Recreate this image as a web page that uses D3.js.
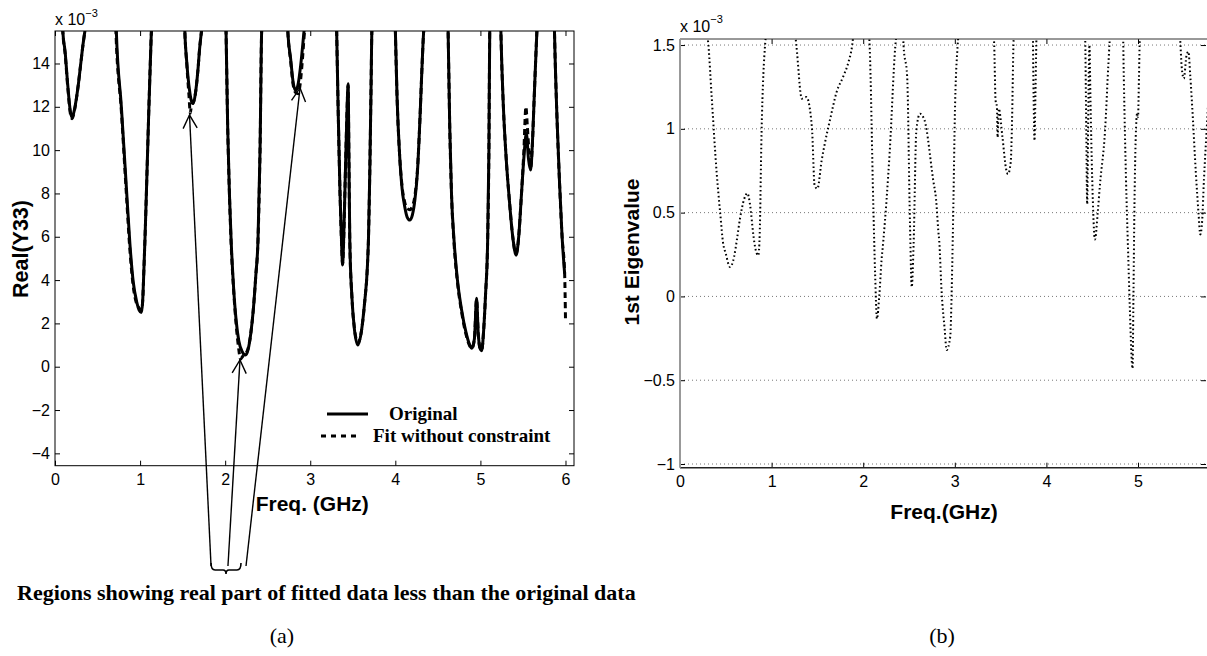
<!DOCTYPE html>
<html><head><meta charset="utf-8">
<script src="https://cdn.jsdelivr.net/npm/d3@7"></script>
<style>body{margin:0;background:#fff}svg{display:block}</style>
</head><body>
<svg id="c" width="1207" height="656"></svg>
<script>
// ---------- data (values in units of 1e-3) ----------
const origData = [
[0,20],[0.06,20],[0.09,15.6],[0.12,14.5],[0.15,13.0],[0.18,11.8],[0.2,11.5],[0.23,11.9],[0.27,12.9],[0.3,13.9],[0.33,14.9],[0.355,15.6],[0.5,20],
[0.7,20],[0.72,15.6],[0.78,12],[0.84,8.2],[0.88,5.7],[0.92,3.9],[0.96,3.0],[0.99,2.6],[1.015,2.5],[1.03,3.0],[1.045,4.5],[1.06,6.2],[1.08,8.8],[1.1,11.5],[1.12,14],[1.135,15.6],[1.3,20],
[1.5,20],[1.525,15.6],[1.55,14],[1.58,12.8],[1.605,12.25],[1.625,12.15],[1.65,12.6],[1.68,13.7],[1.70,14.7],[1.725,15.6],[1.85,20],
[1.99,20],[2.01,15.6],[2.03,11],[2.05,8],[2.07,5.85],[2.1,3.6],[2.13,2.1],[2.16,1.2],[2.2,0.7],[2.24,0.54],[2.27,0.8],[2.3,1.5],[2.33,2.6],[2.36,4.2],[2.386,5.85],[2.41,10],[2.43,15.6],[2.6,20],
[2.72,20],[2.735,15.6],[2.77,14.2],[2.8,13.1],[2.83,12.75],[2.86,13.1],[2.89,14.0],[2.93,15.6],[3.1,20],
[3.29,20],[3.31,15.6],[3.33,11.5],[3.35,8],[3.37,5.5],[3.38,4.7],[3.39,5.5],[3.41,8.5],[3.43,11.5],[3.445,13.07],[3.455,9.5],[3.465,5.8],[3.49,3.2],[3.52,1.7],[3.56,1.0],[3.6,1.6],[3.64,3.0],[3.67,4.5],[3.685,6],[3.70,9],[3.715,13],[3.725,15.6],[3.85,20],
[3.98,20],[4.0,15.6],[4.02,12.5],[4.05,9.8],[4.08,8.2],[4.11,7.4],[4.14,6.9],[4.17,6.77],[4.2,7.0],[4.23,7.7],[4.26,9.0],[4.29,11.5],[4.31,13.5],[4.335,15.6],[4.5,20],
[4.6,20],[4.62,15.6],[4.64,11],[4.66,8],[4.69,5.85],[4.73,4.0],[4.78,2.6],[4.83,1.6],[4.87,1.05],[4.9,0.85],[4.93,1.3],[4.955,3.16],[4.975,1.5],[5.0,0.8],[5.015,0.74],[5.04,1.8],[5.06,3.3],[5.085,5.8],[5.1,10],[5.11,15.6],[5.18,20],
[5.22,20],[5.24,15.6],[5.27,12],[5.3,9.8],[5.34,7.7],[5.38,6.0],[5.42,5.15],[5.45,6.0],[5.48,7.8],[5.51,9.6],[5.54,10.77],[5.565,9.6],[5.59,9.08],[5.61,10.2],[5.63,12.2],[5.665,15.6],[5.77,20],
[5.85,20],[5.87,15.6],[5.9,11.5],[5.93,8.5],[5.96,6],[5.99,4.3]
];
const fitData = [
[0,20],[0.06,20],[0.09,15.6],[0.12,14.4],[0.15,12.9],[0.18,11.7],[0.2,11.45],[0.23,11.85],[0.27,12.9],[0.3,13.9],[0.33,14.9],[0.355,15.6],[0.5,20],
[0.7,20],[0.715,15.6],[0.78,11.8],[0.84,7.9],[0.88,5.4],[0.92,3.7],[0.96,2.9],[0.99,2.7],[1.015,2.6],[1.03,3.0],[1.045,4.5],[1.06,6.2],[1.08,8.8],[1.1,11.5],[1.12,14],[1.135,15.6],[1.3,20],
[1.5,20],[1.525,15.6],[1.55,13.9],[1.575,12.5],[1.59,11.7],[1.605,12.1],[1.625,12.2],[1.65,12.6],[1.68,13.7],[1.70,14.7],[1.725,15.6],[1.85,20],
[1.99,20],[2.01,15.6],[2.03,11],[2.05,8],[2.07,5.7],[2.1,3.5],[2.13,1.9],[2.16,0.8],[2.18,0.35],[2.21,0.5],[2.24,0.6],[2.27,0.85],[2.3,1.5],[2.33,2.6],[2.36,4.2],[2.386,5.85],[2.41,10],[2.43,15.6],[2.6,20],
[2.72,20],[2.735,15.6],[2.77,14.1],[2.8,13.0],[2.83,12.65],[2.86,12.6],[2.88,13.0],[2.9,13.8],[2.935,15.6],[3.1,20],
[3.29,20],[3.31,15.6],[3.33,11.5],[3.35,8],[3.37,5.5],[3.38,4.75],[3.39,5.5],[3.41,8.5],[3.43,11.5],[3.445,13.0],[3.455,9.5],[3.465,5.8],[3.49,3.2],[3.52,1.75],[3.56,1.1],[3.6,1.6],[3.64,3.0],[3.67,4.5],[3.685,6],[3.70,9],[3.715,13],[3.725,15.6],[3.85,20],
[3.98,20],[4.0,15.6],[4.02,12.5],[4.05,9.8],[4.08,8.3],[4.11,7.6],[4.14,7.3],[4.17,7.25],[4.2,7.4],[4.23,7.9],[4.26,9.1],[4.29,11.5],[4.31,13.5],[4.335,15.6],[4.5,20],
[4.6,20],[4.62,15.6],[4.64,11],[4.66,8],[4.69,5.7],[4.73,3.9],[4.78,2.5],[4.83,1.5],[4.87,1.0],[4.9,0.85],[4.93,1.3],[4.955,3.1],[4.975,1.5],[5.0,0.8],[5.015,0.78],[5.04,1.8],[5.06,3.3],[5.085,5.8],[5.1,10],[5.11,15.6],[5.18,20],
[5.22,20],[5.24,15.6],[5.27,12],[5.3,9.8],[5.34,7.7],[5.38,6.0],[5.42,5.2],[5.45,6.0],[5.48,7.8],[5.51,9.9],[5.535,12.0],[5.55,11.2],[5.57,10.0],[5.59,9.2],[5.61,10.2],[5.63,12.2],[5.665,15.6],[5.77,20],
[5.85,20],[5.87,15.6],[5.9,11.5],[5.93,8.5],[5.96,6],[5.99,4.3],[6.0,2.2]
];
const eigData = [
[0.29,1.6],[0.31,1.5],[0.346,1.19],[0.40,0.74],[0.44,0.49],[0.47,0.32],[0.5,0.255],[0.546,0.175],[0.59,0.235],[0.62,0.334],[0.655,0.465],[0.7,0.58],[0.735,0.616],[0.764,0.55],[0.80,0.37],[0.82,0.294],[0.855,0.245],[0.87,0.37],[0.89,0.97],[0.93,1.51],[0.95,1.6],
[1.1,1.9],
[1.25,1.6],[1.27,1.5],[1.33,1.18],[1.38,1.19],[1.44,1.01],[1.47,0.66],[1.5,0.643],[1.546,0.81],[1.58,0.91],[1.64,1.06],[1.71,1.22],[1.78,1.31],[1.84,1.40],[1.88,1.5],[1.9,1.6],
[2.0,1.9],
[2.06,1.6],[2.07,1.5],[2.11,0.55],[2.13,0.135],[2.15,-0.133],[2.175,0.0],[2.2,0.215],[2.22,0.334],[2.29,0.87],[2.35,1.49],[2.37,1.6],
[2.42,1.8],
[2.44,1.5],[2.48,1.31],[2.51,0.45],[2.53,0.056],[2.55,0.31],[2.58,0.99],[2.62,1.09],[2.67,1.05],[2.765,0.69],[2.795,0.58],[2.82,0.39],[2.83,0.33],[2.855,0.036],[2.89,-0.2],[2.91,-0.32],[2.95,-0.24],[2.966,0.036],[2.977,0.33],[2.985,0.57],[3.0,1.07],[3.03,1.49],[3.05,1.6],
[3.2,1.9],
[3.42,1.6],[3.43,1.5],[3.445,1.17],[3.46,1.13],[3.467,0.95],[3.48,1.12],[3.52,0.95],[3.56,0.76],[3.58,0.73],[3.61,0.8],[3.625,1.05],[3.64,1.5],[3.65,1.6],
[3.75,1.9],
[3.85,1.6],[3.86,1.2],[3.87,0.93],[3.88,1.2],[3.895,1.6],
[4.1,1.9],
[4.42,1.6],[4.435,1.0],[4.445,0.55],[4.455,1.0],[4.47,1.5],[4.48,1.2],[4.5,0.7],[4.53,0.34],[4.56,0.5],[4.585,0.67],[4.64,0.99],[4.675,1.37],[4.69,1.52],[4.7,1.6],
[4.76,1.9],
[4.835,1.6],[4.845,1.3],[4.86,0.9],[4.875,0.57],[4.89,0.3],[4.91,-0.06],[4.94,-0.43],[4.95,0.0],[4.96,0.5],[4.975,0.95],[4.99,1.09],[5.0,1.07],[5.01,1.3],[5.02,1.55],[5.03,1.6],
[5.25,1.9],
[5.45,1.6],[5.48,1.35],[5.5,1.3],[5.53,1.44],[5.55,1.46],[5.57,1.32],[5.6,1.05],[5.63,0.75],[5.66,0.5],[5.68,0.37],[5.7,0.45],[5.72,0.7],[5.75,1.0],[5.77,1.2]
];
const leftXTicks = [0,1,2,3,4,5,6];
const leftYTicks = [-4,-2,0,2,4,6,8,10,12,14];
const rightXTicks = [0,1,2,3,4,5];
const rightYTicks = [-1,-0.5,0,0.5,1,1.5];
const legendLabels = ["Original","Fit without constraint"];
const arrowTips = [[1.581,11.62],[2.174,0.31],[2.88,12.87]];
const arrowEnds = [[1.834,-9.2],[2.033,-9.2],[2.245,-9.2]];
const braceRange = [1.834,2.186];
const captionText = "Regions showing real part of fitted data less than the original data";

// ---------- drawing ----------
const svg = d3.select("#c");
const SANS = "'Liberation Sans', Arial, sans-serif";
const SERIF = "'Liberation Serif', 'Times New Roman', serif";

// Left chart
const L = {x0:55, x1:574, y0:31, y1:465.7};
const xL = d3.scaleLinear([0,6.1],[L.x0,L.x1]);
const yL = d3.scaleLinear([-4.57,15.5],[L.y1,L.y0]);

svg.append("clipPath").attr("id","clipL").append("rect")
  .attr("x",L.x0).attr("y",L.y0).attr("width",L.x1-L.x0).attr("height",L.y1-L.y0);

const gL = svg.append("g");
function styleAxis(g){ g.select(".domain").remove(); g.selectAll("text").attr("font-family",SANS).attr("font-size",16).attr("fill","#000"); g.selectAll("line").attr("stroke","#000"); }
gL.append("g").attr("transform",`translate(0,${L.y1})`)
  .call(d3.axisBottom(xL).tickValues(leftXTicks).tickFormat(d3.format("d")).tickSize(-5).tickPadding(8)).call(styleAxis);
gL.append("g").attr("transform",`translate(0,${L.y0})`)
  .call(d3.axisTop(xL).tickValues(leftXTicks).tickFormat("").tickSize(-5)).call(styleAxis);
gL.append("g").attr("transform",`translate(${L.x0},0)`)
  .call(d3.axisLeft(yL).tickValues(leftYTicks).tickFormat(d3.format("d")).tickSize(-5).tickPadding(5)).call(styleAxis);
gL.append("g").attr("transform",`translate(${L.x1},0)`)
  .call(d3.axisRight(yL).tickValues(leftYTicks).tickFormat("").tickSize(-5)).call(styleAxis);
gL.append("rect").attr("x",L.x0).attr("y",L.y0).attr("width",L.x1-L.x0).attr("height",L.y1-L.y0)
  .attr("fill","none").attr("stroke","#000").attr("stroke-width",1);

const lineL = d3.line().x(d=>xL(d[0])).y(d=>yL(d[1])).curve(d3.curveMonotoneX);
const dataG = gL.append("g").attr("clip-path","url(#clipL)");
dataG.append("path").datum(origData).attr("d",lineL).attr("fill","none").attr("stroke","#000").attr("stroke-width",3).attr("stroke-linejoin","round");
dataG.append("path").datum(fitData).attr("d",lineL).attr("fill","none").attr("stroke","#000").attr("stroke-width",3).attr("stroke-dasharray","6,4");

// exponent label
const expL = gL.append("text").attr("x",L.x0).attr("y",25).attr("font-family",SANS).attr("font-size",16);
expL.append("tspan").text("x 10");
expL.append("tspan").attr("dy",-8).attr("font-size",11).text("−3");

// axis titles
gL.append("text").attr("transform",`translate(28,249) rotate(-90)`).attr("text-anchor","middle")
  .attr("font-family",SANS).attr("font-weight","bold").attr("font-size",21.5).text("Real(Y33)");
gL.append("text").attr("x",xL(3)+2).attr("y",511).attr("text-anchor","middle")
  .attr("font-family",SANS).attr("font-weight","bold").attr("font-size",21).text("Freq. (GHz)");

// legend
const leg = gL.append("g");
leg.append("line").attr("x1",327).attr("x2",368).attr("y1",414).attr("y2",414).attr("stroke","#000").attr("stroke-width",3);
leg.append("line").attr("x1",321).attr("x2",361).attr("y1",436).attr("y2",436).attr("stroke","#000").attr("stroke-width",3).attr("stroke-dasharray","5,5");
leg.append("text").attr("x",389).attr("y",420).attr("font-family",SERIF).attr("font-weight","bold").attr("font-size",19).text(legendLabels[0]);
leg.append("text").attr("x",373).attr("y",442).attr("font-family",SERIF).attr("font-weight","bold").attr("font-size",19).text(legendLabels[1]);

// annotation arrows
const ann = svg.append("g");
arrowTips.forEach((t,i)=>{
  const tx=xL(t[0]), ty=yL(t[1]);
  const ex=xL(arrowEnds[i][0]), ey=yL(arrowEnds[i][1]);
  ann.append("line").attr("x1",tx).attr("y1",ty).attr("x2",ex).attr("y2",ey).attr("stroke","#000").attr("stroke-width",1.4);
  const dx=ex-tx, dy=ey-ty, len=Math.hypot(dx,dy), ux=dx/len, uy=dy/len;
  const th=28*Math.PI/180, al=15;
  const r=(a)=>[ux*Math.cos(a)-uy*Math.sin(a), ux*Math.sin(a)+uy*Math.cos(a)];
  const a1=r(th), a2=r(-th);
  ann.append("path").attr("d",`M${tx+al*a1[0]},${ty+al*a1[1]}L${tx},${ty}L${tx+al*a2[0]},${ty+al*a2[1]}`)
    .attr("fill","none").attr("stroke","#000").attr("stroke-width",1.4);
});
// brace
{
  const bx0=xL(braceRange[0]), bx1=xL(braceRange[1]), by=yL(-9.2)-1, bm=(bx0+bx1)/2;
  ann.append("path").attr("d",`M${bx0},${by-2}Q${bx0},${by+5} ${bx0+4},${by+5}L${bm-3},${by+5}Q${bm},${by+5} ${bm},${by+9}Q${bm},${by+5} ${bm+3},${by+5}L${bx1-4},${by+5}Q${bx1},${by+5} ${bx1},${by-2}`)
    .attr("fill","none").attr("stroke","#000").attr("stroke-width",1.6);
}
svg.append("text").attr("x",17).attr("y",600).attr("font-family",SERIF).attr("font-weight","bold").attr("font-size",22).text(captionText);
svg.append("text").attr("x",282).attr("y",643).attr("text-anchor","middle").attr("font-family",SERIF).attr("font-size",22).text("(a)");

// Right chart
const R = {x0:680, x1:1207, y0:39, y1:467.7};
const xR = d3.scaleLinear([0,5.753],[R.x0,R.x1]);
const yR = d3.scaleLinear([-1.022,1.536],[R.y1,R.y0]);
svg.append("clipPath").attr("id","clipR").append("rect")
  .attr("x",R.x0).attr("y",R.y0).attr("width",R.x1-R.x0).attr("height",R.y1-R.y0);
const gR = svg.append("g");
// grid
gR.selectAll(".grid").data(rightYTicks).join("line")
  .attr("x1",R.x0).attr("x2",R.x1).attr("y1",d=>yR(d)).attr("y2",d=>yR(d))
  .attr("stroke","#777").attr("stroke-width",1).attr("stroke-dasharray","1,3");
gR.append("g").attr("transform",`translate(0,${R.y1})`)
  .call(d3.axisBottom(xR).tickValues(rightXTicks).tickFormat(d3.format("d")).tickSize(-5).tickPadding(8)).call(styleAxis);
gR.append("g").attr("transform",`translate(0,${R.y0})`)
  .call(d3.axisTop(xR).tickValues(rightXTicks).tickFormat("").tickSize(-5)).call(styleAxis);
gR.append("g").attr("transform",`translate(${R.x0},0)`)
  .call(d3.axisLeft(yR).tickValues(rightYTicks).tickFormat(d3.format("")).tickSize(-5).tickPadding(5)).call(styleAxis);
gR.append("g").attr("transform",`translate(${R.x1-1},0)`)
  .call(d3.axisRight(yR).tickValues(rightYTicks).tickFormat("").tickSize(-5)).call(styleAxis);
gR.append("line").attr("x1",R.x0).attr("x2",R.x1).attr("y1",R.y0).attr("y2",R.y0).attr("stroke","#333");
gR.append("line").attr("x1",R.x0).attr("x2",R.x1).attr("y1",R.y1).attr("y2",R.y1).attr("stroke","#222").attr("stroke-width",1.5);
gR.append("line").attr("x1",R.x0).attr("x2",R.x0).attr("y1",R.y0).attr("y2",R.y1).attr("stroke","#999").attr("stroke-width",2);

const lineR = d3.line().x(d=>xR(d[0])).y(d=>yR(d[1])).curve(d3.curveMonotoneX);
gR.append("g").attr("clip-path","url(#clipR)").append("path").datum(eigData).attr("d",lineR)
  .attr("fill","none").attr("stroke","#000").attr("stroke-width",2).attr("stroke-dasharray","1.6,2.6");

const expR = gR.append("text").attr("x",R.x0).attr("y",32).attr("font-family",SANS).attr("font-size",16);
expR.append("tspan").text("x 10");
expR.append("tspan").attr("dy",-9).attr("font-size",11).text("−3");

gR.append("text").attr("transform",`translate(639,252) rotate(-90)`).attr("text-anchor","middle")
  .attr("font-family",SANS).attr("font-weight","bold").attr("font-size",21).text("1st Eigenvalue");
gR.append("text").attr("x",944).attr("y",519).attr("text-anchor","middle")
  .attr("font-family",SANS).attr("font-weight","bold").attr("font-size",21).text("Freq.(GHz)");
svg.append("text").attr("x",942).attr("y",643).attr("text-anchor","middle").attr("font-family",SERIF).attr("font-size",22).text("(b)");
</script>
</body></html>
